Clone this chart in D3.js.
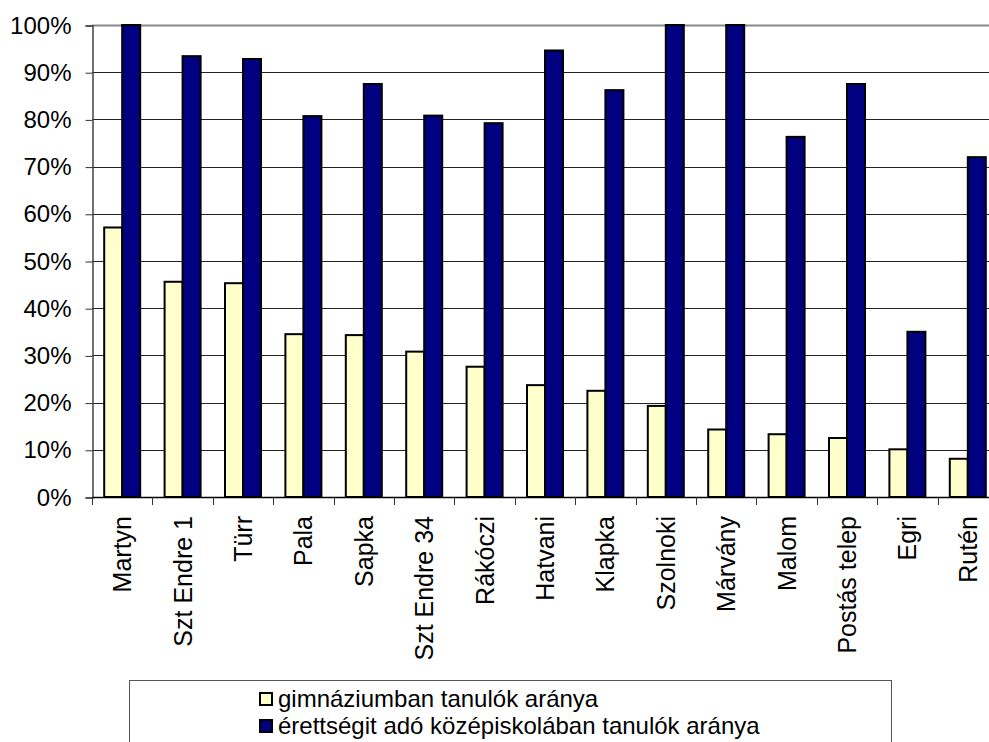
<!DOCTYPE html>
<html>
<head>
<meta charset="utf-8">
<script src="https://cdn.jsdelivr.net/npm/d3@7"></script>
<style>
html,body{margin:0;padding:0;background:#fff;}
svg{display:block;font-family:Arial,"Liberation Sans",sans-serif;}
</style>
</head>
<body>
<svg id="chart" width="989" height="742"></svg>
<script>
const categories = ["Martyn","Szt Endre 1","Türr","Pala","Sapka","Szt Endre 34","Rákóczi","Hatvani","Klapka","Szolnoki","Márvány","Malom","Postás telep","Egri","Rutén"];
const gimnazium = [57.1,45.6,45.3,34.5,34.3,30.8,27.6,23.7,22.5,19.3,14.3,13.3,12.5,10.1,8.1];
const erettsegi = [100,93.4,92.8,80.7,87.5,80.8,79.2,94.6,86.2,100,100,76.3,87.5,35.0,72.0];
const yTicks = [0,10,20,30,40,50,60,70,80,90,100];
const seriesNames = ["gimnáziumban tanulók aránya","érettségit adó középiskolában tanulók aránya"];
const seriesColors = ["#FFFFCC","#000080"];

(function(){
const svg = d3.select("#chart");
const mLeft = 92, mRight = 998, mTop = 25, mBottom = 497;

const x = d3.scaleBand().domain(categories).range([mLeft, mRight]).padding(0);
const y = d3.scaleLinear().domain([0,100]).range([mBottom, mTop]);
const barW = x.bandwidth()*0.298;

// gridlines
svg.append("g").selectAll("line").data(yTicks.filter(d=>d>0)).join("line")
  .attr("x1", mLeft).attr("x2", 989)
  .attr("y1", d=>Math.round(y(d))+0.5).attr("y2", d=>Math.round(y(d))+0.5)
  .attr("stroke", d=>d===100?"#888":"#222").attr("stroke-width", d=>d===100?2:1);

// y axis
const yAxis = d3.axisLeft(y).tickValues(yTicks).tickFormat(d=>d+"%").tickSize(7).tickPadding(14);
const gy = svg.append("g").attr("transform",`translate(${mLeft+0.5},0.5)`).call(yAxis);
gy.select(".domain").attr("stroke","#444").attr("stroke-width",1.5);
gy.selectAll(".tick line").attr("stroke","#333");
gy.selectAll("text").attr("font-size","24px").attr("fill","#000").attr("font-family","Arial, 'Liberation Sans', sans-serif");

// bars
const groups = svg.append("g").selectAll("g").data(categories).join("g");
groups.append("rect")
  .attr("x", (d)=>x(d)+x.bandwidth()/2-barW)
  .attr("y", (d,i)=>y(gimnazium[i]))
  .attr("width", barW)
  .attr("height", (d,i)=>mBottom-y(gimnazium[i]))
  .attr("fill", seriesColors[0]).attr("stroke","#000").attr("stroke-width",2);
groups.append("rect")
  .attr("x", (d)=>x(d)+x.bandwidth()/2)
  .attr("y", (d,i)=>y(erettsegi[i]))
  .attr("width", barW)
  .attr("height", (d,i)=>mBottom-y(erettsegi[i]))
  .attr("fill", seriesColors[1]).attr("stroke","#000").attr("stroke-width",2);

// x axis
const xAxis = d3.axisBottom(x).tickSize(0).tickFormat("");
const gx = svg.append("g").attr("transform",`translate(0,${mBottom})`).call(xAxis);
gx.select(".domain").attr("stroke","#000").attr("stroke-width",1.5);
// boundary ticks
const bounds = categories.map(c=>x(c)).concat([mRight]);
svg.append("g").selectAll("line").data(bounds).join("line")
  .attr("x1", d=>Math.round(d)+0.5).attr("x2", d=>Math.round(d)+0.5)
  .attr("y1", mBottom).attr("y2", mBottom+8)
  .attr("stroke","#333").attr("stroke-width",1);

// x labels rotated
svg.append("g").selectAll("text").data(categories).join("text")
  .attr("transform", d=>`translate(${x(d)+x.bandwidth()/2+9},${mBottom+19}) rotate(-90)`)
  .attr("text-anchor","end")
  .attr("font-size","25px")
  .attr("fill","#000")
  .text(d=>d);

// legend
const lg = svg.append("g");
lg.append("rect").attr("x",129.5).attr("y",680.5).attr("width",762).attr("height",80)
  .attr("fill","#fff").attr("stroke","#555").attr("stroke-width",1);
seriesNames.forEach((n,i)=>{
  const cy = 699 + i*27;
  lg.append("rect").attr("x",260).attr("y",cy-6).attr("width",12).attr("height",12)
    .attr("fill",seriesColors[i]).attr("stroke","#000").attr("stroke-width",2);
  lg.append("text").attr("x",278).attr("y",cy+8).attr("font-size","24px").attr("fill","#000").text(n);
});
})();
</script>
</body>
</html>
